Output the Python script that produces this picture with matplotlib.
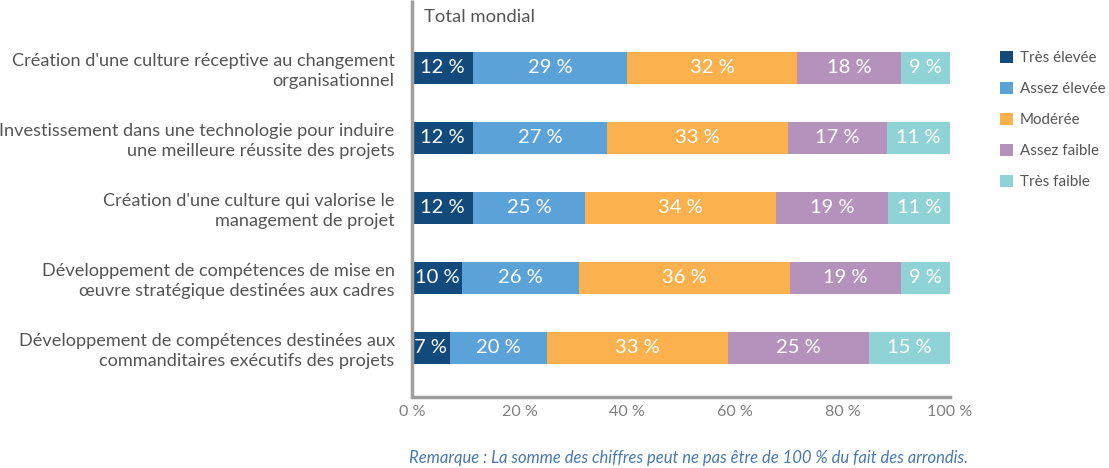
import matplotlib
matplotlib.use("Agg")
import matplotlib.pyplot as plt
from matplotlib.patches import Patch
import numpy as np

plt.rcParams['font.family'] = ['Lato', 'DejaVu Sans']

categories = [
    "Création d'une culture réceptive au changement\norganisationnel",
    "Investissement dans une technologie pour induire\nune meilleure réussite des projets",
    "Création d'une culture qui valorise le\nmanagement de projet",
    "Développement de compétences de mise en\nœuvre stratégique destinées aux cadres",
    "Développement de compétences destinées aux\ncommanditaires exécutifs des projets",
]
series = ["Très élevée", "Assez élevée", "Modérée", "Assez faible", "Très faible"]

# Percentages printed on the bars
labels_pct = [
    [12, 29, 32, 18, 9],
    [12, 27, 33, 17, 11],
    [12, 25, 34, 19, 11],
    [10, 26, 36, 19, 9],
    [7, 20, 33, 25, 15],
]
# Segment lengths as drawn in the reference (share of the 100 % bar)
drawn_share = [
    [11.4, 28.6, 31.5, 19.4, 9.1],
    [11.4, 24.9, 33.5, 18.5, 11.7],
    [11.4, 20.7, 35.6, 20.7, 11.6],
    [9.3, 21.8, 39.1, 20.7, 9.1],
    [7.0, 18.1, 33.6, 26.3, 15.0],
]
xticks = [0, 20, 40, 60, 80, 100]
xtick_labels = ["0 %", "20 %", "40 %", "60 %", "80 %", "100 %"]
colors = ["#124a7c", "#5ba2d8", "#fbb14e", "#b592bb", "#8fd3d6"]

W, H = 1109, 468
fig = plt.figure(figsize=(W / 100, H / 100), dpi=100)
ax = fig.add_axes([412 / W, (H - 397) / H, 538 / W, 397 / H])

y = np.arange(len(categories))
shares = np.array(drawn_share)
left = np.zeros(len(categories))
for j, name in enumerate(series):
    bars = ax.barh(y, shares[:, j], left=left, height=0.46, color=colors[j],
                   edgecolor="none", label=name)
    for i, b in enumerate(bars):
        ax.text(left[i] + shares[i, j] / 2, y[i], f"{labels_pct[i][j]} %",
                ha="center", va="center", color="white", fontsize=14.5)
    left += shares[:, j]

ax.set_xlim(0, 100)
ax.set_ylim(4.7, -0.97)
ax.set_yticks(y)
ax.set_yticklabels(categories, fontsize=13.1, color="#555555", linespacing=1.25)
ax.set_xticks(xticks)
ax.set_xticklabels(xtick_labels, fontsize=11.6, color="#808080")
ax.tick_params(axis="y", length=0, pad=12.5)
ax.tick_params(axis="x", length=0, pad=6)
for s in ["top", "right"]:
    ax.spines[s].set_visible(False)
for s in ["left", "bottom"]:
    ax.spines[s].set_color("#a0a0a0")
    ax.spines[s].set_linewidth(2.5)
ax.spines["left"].set_capstyle("butt")

fig.text(424 / W, 1 - 17 / H, "Total mondial", fontsize=13.3, color="#555555",
         ha="left", va="center")

handles = [Patch(facecolor=c, edgecolor="none") for c in colors]
fig.legend(handles, series, loc="upper left", bbox_to_anchor=(1000 / W, 1 - 51 / H),
           frameon=False, fontsize=10.9, labelcolor="#555555",
           handlelength=0.85, handleheight=0.85, handletextpad=0.45,
           labelspacing=1.1, borderaxespad=0, borderpad=0)

fig.text(968 / W, 1 - 458 / H,
         "Remarque : La somme des chiffres peut ne pas être de 100 % du fait des arrondis.",
         fontsize=12, color="#4a78b0", style="italic", ha="right", va="center")

fig.savefig("out.png", dpi=100)
